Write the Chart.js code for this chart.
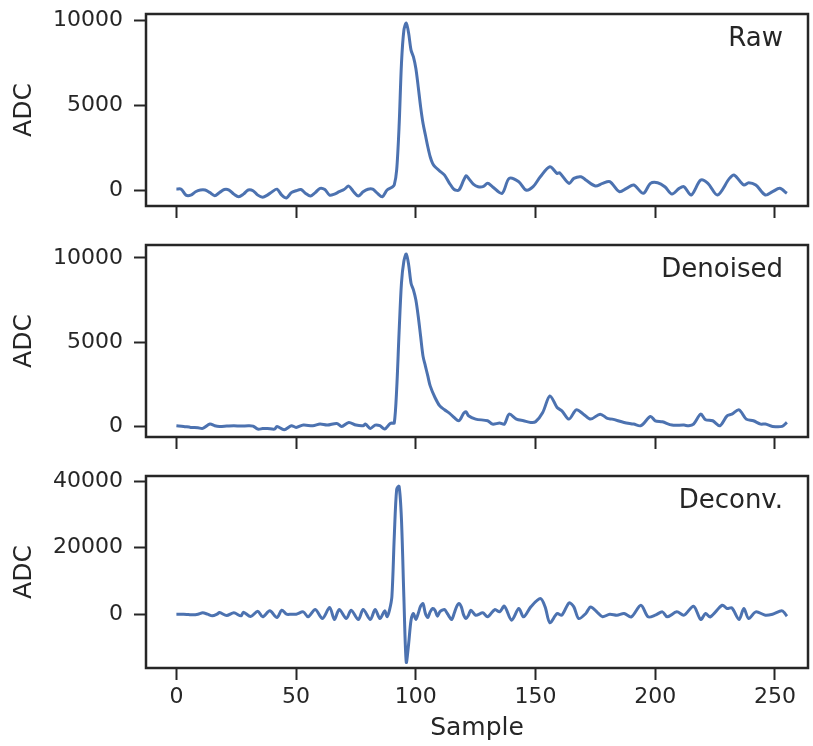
<!DOCTYPE html>
<html>
<head>
<meta charset="utf-8">
<script src="https://cdn.jsdelivr.net/npm/chart.js@4"></script>
<style>
  body { margin: 0; background: #fff; }
  #wrap { position: relative; width: 813px; height: 746px; }
  canvas { position: absolute; left: 0; }
</style>
</head>
<body>
<div id="wrap">
  <canvas id="rawChart" width="813" height="231" style="top:0px"></canvas>
  <canvas id="denoisedChart" width="813" height="231" style="top:231px"></canvas>
  <canvas id="deconvChart" width="813" height="284" style="top:462px"></canvas>
</div>
<script>
// sample positions + values
const rawX = [0,2,4,6,8,10,12,14,16,18,20,22,24,26,28,30,32,34,36,38,40,42,44,46,48,50,52,54,56,58,60,62,64,66,68,70,72,74,76,78,80,82,84,86,88,90,91,92,93,94,95,96,97,98,99,100,101,102,103,104,105,106,107,108,110,112,114,116,118,120,121,122,124,126,128,130,132,136,139,143,146,149,152,156,159,160,164,166,169,171,175,178,181,185,188,191,195,198,201,204,207,210,212,215,219,222,226,231,233,237,239,242,246,249,252,255];
const rawY = [60,50,-300,-300,-100,0,0,-150,-330,-150,30,0,-240,-400,-240,0,-40,-300,-420,-300,-100,50,-300,-470,-150,-40,30,-200,-350,-150,100,30,-300,-240,-100,30,230,-100,-350,-100,50,50,-200,-400,0,160,300,1180,3720,7450,9400,9840,9230,8240,7840,7170,6080,4900,3930,3240,2550,1960,1570,1370,1120,880,410,30,0,590,840,690,350,196,196,392,196,-196,686,490,0,196,784,1370,980,1020,392,686,784,588,235,392,490,-98,98,294,-196,392,431,196,-235,98,196,-294,588,392,-294,686,882,294,431,294,-294,-98,98,-196];

const denX = [0,3,6,9,11,14,16,18,21,24,27,30,32,34,36,38,41,42,45,48,50,53,57,60,63,67,69,72,75,78,79,81,83,85,87,89,90,91,92,93,94,95,96,97,98,99,100,101,102,103,104,105,106,108,110,112,114,116,118,120,121,122,125,130,132,135,137,139,142,145,148,150,153,156,159,161,164,167,170,173,177,180,182,187,191,194,198,200,203,207,212,214,216,219,221,224,227,230,232,235,238,241,244,246,249,253,255];
const denY = [20,-20,-79,-100,-138,118,20,-20,0,20,0,20,0,-178,-150,-138,-178,-20,-217,20,-79,59,20,118,59,158,-20,217,59,20,118,-138,59,20,-178,118,178,178,2190,5540,8500,9800,10237,9600,8500,8100,7510,6530,5340,4160,3570,2980,2390,1700,1200,970,770,510,316,770,850,610,414,316,118,178,118,710,414,316,217,256,808,1795,1105,908,414,967,710,414,710,454,414,217,118,20,572,316,256,59,59,20,118,710,375,316,20,611,710,967,414,316,118,118,-20,-20,217];

const decX = [0,3,5,7,9,11,13,15,17,18,21,24,27,28,31,34,36,39,42,44,46,48,50,53,55,58,61,64,66,68,71,73,76,78,81,83,85,87,88,89,90,91,92,93,94,95,96,97,98,99,100,101,102,103,104,105,106,107,108,109,110,111,112,113,114,115,116,117,118,119,120,121,122,123,125,128,130,133,135,137,140,143,145,148,152,154,156,159,161,164,166,168,171,173,176,178,181,184,187,190,194,197,200,203,205,209,212,216,219,221,223,228,230,232,235,237,239,242,246,249,253,255];
const decY = [0,0,-100,-200,0,400,0,-500,0,500,-400,400,-500,600,-700,900,-800,1000,-1000,1200,0,0,0,700,-800,1400,-1300,2000,-1600,1400,-1300,1200,-1600,1400,-1600,1400,-1300,1000,-800,1200,5250,23400,37600,38500,28500,5250,-14450,-8900,-1800,200,-1600,200,2400,3200,200,-1000,700,1700,1200,-600,700,1200,1400,400,-800,-1600,200,2200,3200,2200,-300,-1300,-300,1200,-300,400,-800,1400,700,2400,-1800,1700,-800,2200,4700,2200,-2600,200,-300,3400,2200,-1300,200,2200,400,-800,0,-300,200,-800,2700,-800,-300,700,-800,700,-300,2400,-1600,200,-800,2700,1700,1900,-1600,1700,-1300,700,-300,0,1000,-600];

const xTicks = [0, 50, 100, 150, 200, 250];
const rawTicks = [0, 5000, 10000];
const denTicks = [0, 5000, 10000];
const decTicks = [0, 20000, 40000];

const ink = "#262626";
const lineBlue = "#4c72b0";
const fam = "'DejaVu Sans', sans-serif";

const framePlugin = {
  id: "frame",
  afterDraw(chart) {
    const a = chart.chartArea;
    const ctx = chart.ctx;
    ctx.save();
    ctx.strokeStyle = ink;
    ctx.lineWidth = 2.5;
    ctx.strokeRect(a.left, a.top, a.right - a.left, a.bottom - a.top);
    // panel name, top right
    ctx.fillStyle = ink;
    ctx.font = "26px " + fam;
    ctx.textAlign = "right";
    ctx.textBaseline = "middle";
    ctx.fillText(chart.options.plugins.frame.label, a.right - 25, a.top + 25);
    ctx.restore();
  }
};

function makePanel(id, xs, ys, yMin, yMax, yTicks, label, last) {
  const ctx = document.getElementById(id).getContext("2d");
  return new Chart(ctx, {
    type: "line",
    data: {
      datasets: [{
        data: xs.map((x, i) => ({ x: x, y: ys[i] })),
        borderColor: lineBlue,
        borderWidth: 3,
        pointRadius: 0,
        tension: 0.3,
        fill: false
      }]
    },
    options: {
      responsive: false,
      animation: false,
      events: [],
      layout: { padding: { top: 14, right: 5, bottom: 0, left: 0 } },
      plugins: {
        legend: { display: false },
        tooltip: { enabled: false },
        frame: { label: label }
      },
      scales: {
        x: {
          type: "linear",
          min: -12.7,
          max: 263.8,
          afterBuildTicks: (s) => { s.ticks = xTicks.map(v => ({ value: v })); },
          afterFit: (s) => {
            s.height = last ? 78 : 25;
            s.paddingLeft = 0;
            s.paddingRight = 0;
          },
          grid: { drawOnChartArea: false, drawTicks: true, tickLength: 12, tickWidth: 2, tickColor: ink },
          border: { display: false },
          ticks: {
            display: last,
            color: ink,
            font: { family: fam, size: 22 },
            padding: 4,
            maxRotation: 0,
            callback: (v) => String(v)
          },
          title: {
            display: last,
            text: "Sample",
            color: ink,
            font: { family: fam, size: 25 },
            padding: { top: 0, bottom: 3 }
          }
        },
        y: {
          min: yMin,
          max: yMax,
          afterBuildTicks: (s) => { s.ticks = yTicks.map(v => ({ value: v })); },
          afterFit: (s) => {
            s.width = 146;
            s.paddingTop = 0;
            s.paddingBottom = 0;
          },
          grid: { drawOnChartArea: false, drawTicks: true, tickLength: 12, tickWidth: 2, tickColor: ink },
          border: { display: false },
          ticks: {
            color: ink,
            font: { family: fam, size: 22 },
            padding: 11,
            callback: (v) => String(v)
          },
          title: {
            display: true,
            text: "ADC",
            color: ink,
            font: { family: fam, size: 25 },
            padding: { top: 9, bottom: 0 }
          }
        }
      }
    },
    plugins: [framePlugin]
  });
}

makePanel("rawChart", rawX, rawY, -941, 10370, rawTicks, "Raw", false);
makePanel("denoisedChart", denX, denY, -650, 10770, denTicks, "Denoised", false);
makePanel("deconvChart", decX, decY, -16200, 41600, decTicks, "Deconv.", true);
</script>
</body>
</html>
